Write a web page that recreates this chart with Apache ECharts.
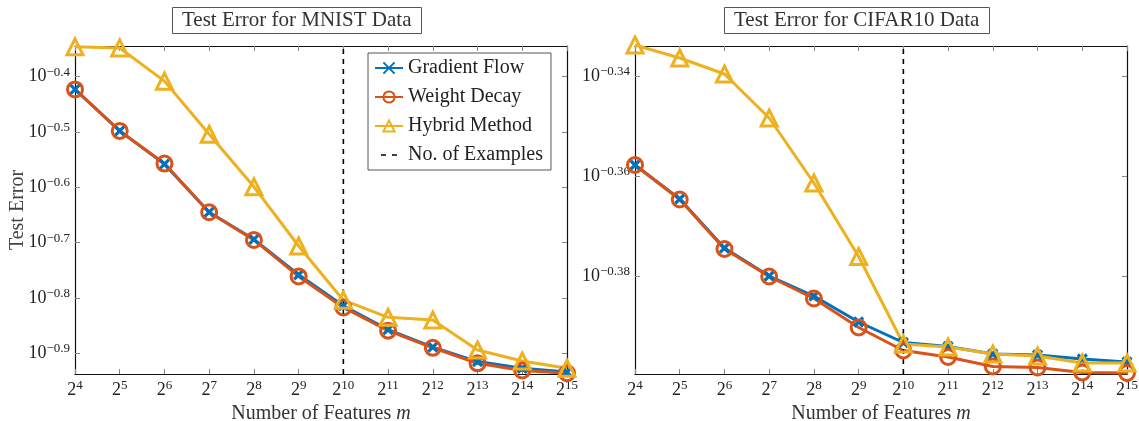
<!DOCTYPE html>
<html>
<head>
<meta charset="utf-8">
<script src="https://cdn.jsdelivr.net/npm/echarts@6/dist/echarts.min.js"></script>
<style>
  html, body { margin: 0; padding: 0; background: #fff; }
  #chart { width: 1139px; height: 421px; }
</style>
</head>
<body>
<div id="chart"></div>
<script>
// x = log2(number of features), y = log10(test error)
const powers = [4, 5, 6, 7, 8, 9, 10, 11, 12, 13, 14, 15];
const examplesPower = 10;

const mnistGradientFlow = [-0.423, -0.498, -0.558, -0.645, -0.694, -0.758, -0.814, -0.857, -0.889, -0.915, -0.927, -0.934];
const mnistWeightDecay = [-0.423, -0.498, -0.557, -0.645, -0.695, -0.761, -0.817, -0.859, -0.890, -0.918, -0.931, -0.936];
const mnistHybrid = [-0.346, -0.348, -0.408, -0.504, -0.599, -0.706, -0.804, -0.835, -0.840, -0.894, -0.914, -0.927];

const cifarGradientFlow = [-0.3577, -0.3645, -0.3743, -0.3799, -0.3839, -0.3891, -0.3932, -0.3940, -0.3955, -0.3957, -0.3965, -0.3971];
const cifarWeightDecay = [-0.3577, -0.3646, -0.3745, -0.3800, -0.3844, -0.3902, -0.3948, -0.3961, -0.3980, -0.3982, -0.3992, -0.3993];
const cifarHybrid = [-0.3337, -0.3363, -0.3395, -0.3483, -0.3613, -0.3760, -0.3935, -0.3941, -0.3955, -0.3959, -0.3973, -0.3973];

const mnistYTicks = [-0.9, -0.8, -0.7, -0.6, -0.5, -0.4];
const cifarYTicks = [-0.38, -0.36, -0.34];
const mnistRange = [-0.9374, -0.3445];
const cifarRange = [-0.3995, -0.3339];

const FONT = "Liberation Serif, serif";
const BLUE = "#0072BD", ORANGE = "#D95319", YELLOW = "#EDB120";
const CROSS = "path://M0,0L10,10M10,0L0,10";
// two short dashes, with tiny corner dots so the icon box stays 28x14
const DASHES = "path://M0,0h0.01v0.01h-0.01zM6,6.2h5v1.6h-5zM17,6.2h5v1.6h-5zM28,14h0.01v0.01h-0.01z";

const pair = (ys) => ys.map((y, i) => [powers[i], y]);

const rich = {
  b: { fontSize: 18, fontFamily: FONT, color: "#222" },
  s: { fontSize: 13, fontFamily: FONT, color: "#222", padding: [0, 0, 9, 0] },
  i: { fontSize: 20, fontFamily: FONT, color: "#333", fontStyle: "italic" },
};

function xAxes(gi) {
  return [
    {
      type: "value", gridIndex: gi, min: 4, max: 15, interval: 1,
      name: "Number of Features {i|m}", nameLocation: "middle", nameGap: 27,
      nameTextStyle: { fontSize: 20, fontFamily: FONT, color: "#333", rich: rich },
      axisLine: { lineStyle: { color: "#111", width: 1.2 } },
      axisTick: { inside: true, length: 5, lineStyle: { color: "#888" } },
      axisLabel: { margin: 5, formatter: (v) => "{b|2}{s|" + v + "}", rich: rich },
      splitLine: { show: false },
    },
    {
      type: "value", gridIndex: gi, min: 4, max: 15, interval: 1, position: "top",
      axisLine: { lineStyle: { color: "#111", width: 1.2 } },
      axisTick: { inside: true, length: 5, lineStyle: { color: "#888" } },
      axisLabel: { show: false }, splitLine: { show: false },
    },
  ];
}

function yAxes(gi, range, ticks, digits, name) {
  return [
    {
      type: "value", gridIndex: gi, min: range[0], max: range[1],
      name: name, nameLocation: "middle", nameGap: 47, nameRotate: 90, nameMoveOverlap: false,
      nameTextStyle: { fontSize: 20, fontFamily: FONT, color: "#444" },
      axisLine: { show: true, lineStyle: { color: "#111", width: 1.2 } },
      axisTick: { inside: true, length: 5, customValues: ticks, lineStyle: { color: "#888" } },
      axisLabel: {
        margin: 5, customValues: ticks, rich: rich,
        formatter: (v) => "{b|10}{s|\u2212" + Math.abs(v).toFixed(digits) + "}",
      },
      splitLine: { show: false },
    },
    {
      type: "value", gridIndex: gi, min: range[0], max: range[1], position: "right",
      axisLine: { show: true, lineStyle: { color: "#111", width: 1.2 } },
      axisTick: { inside: true, length: 5, customValues: ticks, lineStyle: { color: "#888" } },
      axisLabel: { show: false }, splitLine: { show: false },
    },
  ];
}

function plotSeries(gi, gf, wd, hy, range) {
  const ax = { xAxisIndex: gi * 2, yAxisIndex: gi * 2 };
  return [
    Object.assign({
      name: "Gradient Flow", type: "line", data: pair(gf), clip: false,
      symbol: CROSS, symbolSize: 9,
      lineStyle: { color: BLUE, width: 3 },
      itemStyle: { color: "none", borderColor: BLUE, borderWidth: 3.2 },
    }, ax),
    Object.assign({
      name: "Weight Decay", type: "line", data: pair(wd), clip: false,
      symbol: "circle", symbolSize: 15,
      lineStyle: { color: ORANGE, width: 3 },
      itemStyle: { color: "none", borderColor: ORANGE, borderWidth: 3 },
    }, ax),
    Object.assign({
      name: "Hybrid Method", type: "line", data: pair(hy), clip: false,
      symbol: "triangle", symbolSize: 16,
      lineStyle: { color: YELLOW, width: 3 },
      itemStyle: { color: "none", borderColor: YELLOW, borderWidth: 3 },
    }, ax),
    Object.assign({
      name: "No. of Examples", type: "line", symbol: "none",
      data: [[examplesPower, range[0]], [examplesPower, range[1]]],
      lineStyle: { color: "#000", width: 1.6, type: [5, 5] },
      itemStyle: { color: "#000" },
    }, ax),
  ];
}

const chart = echarts.init(document.getElementById("chart"));
chart.setOption({
  animation: false,
  backgroundColor: "#fff",
  title: [
    {
      text: "Test Error for MNIST Data", left: 172, top: 7,
      borderColor: "#555", borderWidth: 1, padding: [3, 10],
      textStyle: { fontSize: 21, fontWeight: "normal", fontFamily: FONT, color: "#333" },
    },
    {
      text: "Test Error for CIFAR10 Data", left: 724, top: 7,
      borderColor: "#555", borderWidth: 1, padding: [3, 10],
      textStyle: { fontSize: 21, fontWeight: "normal", fontFamily: FONT, color: "#333" },
    },
  ],
  legend: {
    orient: "vertical", left: 368, top: 53,
    data: [
      "Gradient Flow", "Weight Decay", "Hybrid Method",
      { name: "No. of Examples", icon: DASHES, itemStyle: { color: "#000" } },
    ],
    itemWidth: 28, itemHeight: 14, itemGap: 9, padding: [5, 8, 5, 6],
    borderColor: "#555", borderWidth: 1, backgroundColor: "#fff",
    textStyle: { fontSize: 20, fontFamily: FONT, color: "#222" },
  },
  grid: [
    { left: 75, top: 46, width: 492, height: 328, outerBoundsMode: "none" },
    { left: 635, top: 46, width: 492, height: 328, outerBoundsMode: "none" },
  ],
  xAxis: xAxes(0).concat(xAxes(1)),
  yAxis: yAxes(0, mnistRange, mnistYTicks, 1, "Test Error").concat(yAxes(1, cifarRange, cifarYTicks, 2, "")),
  series: plotSeries(0, mnistGradientFlow, mnistWeightDecay, mnistHybrid, mnistRange)
    .concat(plotSeries(1, cifarGradientFlow, cifarWeightDecay, cifarHybrid, cifarRange)),
});
</script>
</body>
</html>
